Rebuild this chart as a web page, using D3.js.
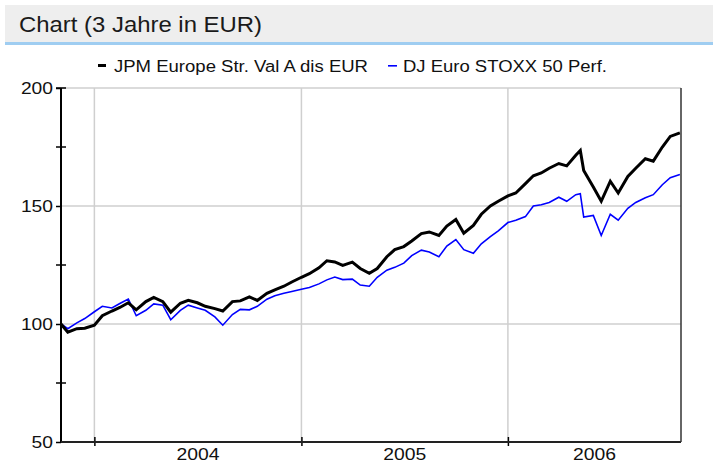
<!DOCTYPE html>
<html><head><meta charset="utf-8">
<script src="https://cdn.jsdelivr.net/npm/d3@7"></script>
<style>body{margin:0;background:#fff}svg{display:block}text{font-family:"Liberation Sans",Arial,sans-serif}</style>
</head><body><svg id="c" width="713" height="464"></svg>
<script>
const titleText = "Chart (3 Jahre in EUR)";
const seriesNames = ["JPM Europe Str. Val A dis EUR", "DJ Euro STOXX 50 Perf."];
const dates = ["2003-11-03","2003-11-15","2003-12-01","2003-12-15","2004-01-01","2004-01-15","2004-02-01","2004-02-15","2004-03-01","2004-03-15","2004-04-01","2004-04-15","2004-05-01","2004-05-15","2004-06-01","2004-06-15","2004-07-01","2004-07-15","2004-08-01","2004-08-15","2004-09-01","2004-09-15","2004-10-01","2004-10-15","2004-11-01","2004-11-15","2004-12-01","2004-12-15","2005-01-01","2005-01-15","2005-02-01","2005-02-15","2005-03-01","2005-03-15","2005-04-01","2005-04-15","2005-05-01","2005-05-15","2005-06-01","2005-06-15","2005-07-01","2005-07-15","2005-08-01","2005-08-15","2005-09-01","2005-09-15","2005-10-01","2005-10-15","2005-11-01","2005-11-15","2005-12-01","2005-12-15","2006-01-01","2006-01-15","2006-02-01","2006-02-15","2006-03-01","2006-03-15","2006-04-01","2006-04-15","2006-05-01","2006-05-09","2006-05-15","2006-06-01","2006-06-15","2006-07-01","2006-07-15","2006-08-01","2006-08-15","2006-09-01","2006-09-15","2006-10-01","2006-10-15","2006-11-01"];
const jpm = [100,96.5,98,98.2,99.5,103.5,105.5,107,109,106,109.5,111.3,109.5,105,108.8,110,109,107.5,106.5,105.5,109.5,109.8,111.5,110,113,114.5,116,117.8,119.8,121.3,123.8,126.8,126.3,124.8,126.2,123.5,121.5,123.5,128.5,131.5,132.8,135.2,138.3,139,137.5,141.5,144.3,138.5,141.8,146.5,150,152,154.3,155.5,159.5,162.8,164,166,168,167,171.5,173.5,165,158,152,160.5,155.5,162.5,166,170,169,175,179.5,181];
const stoxx = [100,98,100.5,102.3,105.2,107.5,106.8,108.7,110.6,103.5,105.8,108.5,108,101.8,105.8,108,106.8,105.8,103,99.5,104,106.2,106,107.5,110.5,112,113,113.8,114.7,115.5,117,118.7,119.9,118.8,119,116.5,116,119.8,122.8,124,125.8,129,131.3,130.5,128.5,133,135.8,131.5,130,134,137,139.5,143,144,145.5,150,150.5,151.5,153.7,152,154.8,155.2,145.3,146,137.5,146.5,144,149,151.5,153.5,154.8,159,162,163.3];
const yTicks = [50,100,150,200];
const yMinor = [75,125,175];
const yearTicks = ["2004-01-01","2005-01-01","2006-01-01"];
const yearLabels = ["2004","2005","2006"];

const parse = d3.timeParse("%Y-%m-%d");
const svg = d3.select("#c");
const L = 61, R = 681, T = 88, B = 442;
const x = d3.scaleTime().domain([parse("2003-11-03"), parse("2006-11-03")]).range([L, R]);
const y = d3.scaleLinear().domain([50, 200]).range([B, T]);

// title bar
svg.append("rect").attr("x",5).attr("y",5).attr("width",708).attr("height",38).attr("fill","#eeeeee");
svg.append("rect").attr("x",5).attr("y",42).attr("width",708).attr("height",3).attr("fill","#9fcdf1");
svg.append("text").attr("x",19).attr("y",32).attr("font-size",22).attr("fill","#1a1a1a")
  .attr("textLength",243).attr("lengthAdjust","spacingAndGlyphs").text(titleText);

// legend
const lg = svg.append("g");
lg.append("rect").attr("x",98).attr("y",64).attr("width",8).attr("height",3).attr("fill","#000");
lg.append("text").attr("x",114).attr("y",72).attr("font-size",16).attr("fill","#111")
  .attr("textLength",254).attr("lengthAdjust","spacingAndGlyphs").text(seriesNames[0]);
lg.append("rect").attr("x",388).attr("y",65).attr("width",9).attr("height",1.6).attr("fill","#0000ff");
lg.append("text").attr("x",403).attr("y",72).attr("font-size",16).attr("fill","#111")
  .attr("textLength",204).attr("lengthAdjust","spacingAndGlyphs").text(seriesNames[1]);

// grid
const yt = yearTicks.map(parse);
svg.append("g").selectAll("line").data(yTicks.filter(v=>v>50)).join("line")
  .attr("x1",L).attr("x2",R).attr("y1",d=>y(d)).attr("y2",d=>y(d)).attr("stroke","#cfcfcf").attr("stroke-width",1.5);
svg.append("g").selectAll("line").data(yt).join("line")
  .attr("x1",d=>x(d)).attr("x2",d=>x(d)).attr("y1",T).attr("y2",B).attr("stroke","#cfcfcf").attr("stroke-width",1.5);

// axes
const yAxis = d3.axisLeft(y).tickValues(yTicks).tickSize(5).tickPadding(3).tickFormat(d3.format("d"));
const ya = svg.append("g").attr("transform",`translate(${L},0)`).call(yAxis);
ya.select(".domain").remove();
ya.selectAll("text").attr("font-size",17).attr("fill","#111").attr("font-family","Liberation Sans, Arial, sans-serif")
  .attr("textLength",d=>String(d).length*10.7).attr("lengthAdjust","spacingAndGlyphs");
ya.selectAll("line").attr("stroke","#000").attr("stroke-width",1.5);
svg.append("g").selectAll("line").data(yMinor).join("line")
  .attr("x1",L-5).attr("x2",L+5).attr("y1",d=>y(d)).attr("y2",d=>y(d)).attr("stroke","#000").attr("stroke-width",1.5);
svg.append("line").attr("x1",L-5).attr("x2",L+5).attr("y1",T).attr("y2",T).attr("stroke","#000").attr("stroke-width",1.5);

const xAxis = d3.axisBottom(x).tickValues(yt).tickSize(4).tickFormat("");
const xa = svg.append("g").attr("transform",`translate(0,${B})`).call(xAxis);
xa.select(".domain").remove();
xa.selectAll("line").attr("stroke","#000").attr("stroke-width",1.5).attr("y1",-5);
const bounds = [x.domain()[0], ...yt, x.domain()[1]];
svg.append("g").selectAll("text").data(yearLabels).join("text")
  .attr("x",(d,i)=>(x(bounds[i+1])+x(bounds[i+2]))/2).attr("y",460).attr("text-anchor","middle")
  .attr("font-size",16).attr("fill","#111").attr("textLength",43).attr("lengthAdjust","spacingAndGlyphs").text(d=>d);

// lines
const mk = vals => dates.map((d,i)=>({d:parse(d), v:vals[i]}));
const line = d3.line().x(p=>x(p.d)).y(p=>y(p.v));
svg.append("path").datum(mk(stoxx)).attr("d",line).attr("fill","none").attr("stroke","#0000ff").attr("stroke-width",1.6);
svg.append("path").datum(mk(jpm)).attr("d",line).attr("fill","none").attr("stroke","#000").attr("stroke-width",3);

// frame
svg.append("line").attr("x1",L).attr("x2",L).attr("y1",T).attr("y2",B+0.75).attr("stroke","#000").attr("stroke-width",2);
svg.append("line").attr("x1",L).attr("x2",R).attr("y1",B).attr("y2",B).attr("stroke","#222").attr("stroke-width",2);
svg.append("line").attr("x1",R).attr("x2",R).attr("y1",T).attr("y2",B).attr("stroke","#333").attr("stroke-width",1.5);
</script></body></html>
